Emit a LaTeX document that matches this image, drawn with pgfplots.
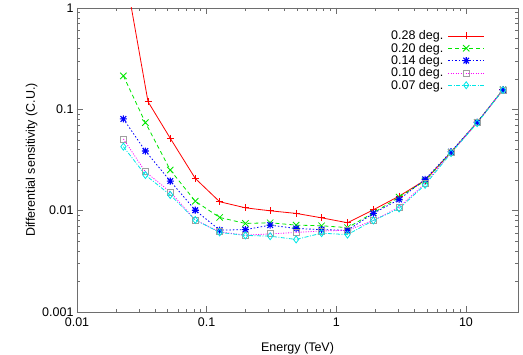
\documentclass[border=0pt]{standalone}
\usepackage{fontspec}
\setmainfont{Liberation Sans}
\usepackage{pgfplots}
\pgfplotsset{compat=1.18}
\usetikzlibrary{plotmarks}

\definecolor{gpred}{RGB}{255,0,0}
\definecolor{gpgreen}{RGB}{0,230,0}
\definecolor{gpblue}{RGB}{0,0,255}
\definecolor{gpmag}{RGB}{255,0,255}
\definecolor{gpcyan}{RGB}{0,230,230}
\definecolor{gpgrey}{RGB}{160,160,160}
\definecolor{border}{RGB}{110,110,110}

% gnuplot style "*" point: a + and an x on top of each other
\pgfdeclareplotmark{gstar}{%
  \pgfpathmoveto{\pgfqpoint{-\pgfplotmarksize}{0pt}}%
  \pgfpathlineto{\pgfqpoint{\pgfplotmarksize}{0pt}}%
  \pgfpathmoveto{\pgfqpoint{0pt}{-\pgfplotmarksize}}%
  \pgfpathlineto{\pgfqpoint{0pt}{\pgfplotmarksize}}%
  \pgfpathmoveto{\pgfqpoint{-.8\pgfplotmarksize}{-.8\pgfplotmarksize}}%
  \pgfpathlineto{\pgfqpoint{.8\pgfplotmarksize}{.8\pgfplotmarksize}}%
  \pgfpathmoveto{\pgfqpoint{-.8\pgfplotmarksize}{.8\pgfplotmarksize}}%
  \pgfpathlineto{\pgfqpoint{.8\pgfplotmarksize}{-.8\pgfplotmarksize}}%
  \pgfusepathqstroke}

\begin{document}
\begin{tikzpicture}[font=\fontsize{12.5bp}{15bp}\selectfont]
\begin{axis}[
  scale only axis,
  width=441bp, height=304bp,
  xmode=log, ymode=log,
  xmin=0.01, xmax=25.2,
  ymin=0.001, ymax=1,
  xtick={0.01,0.1,1,10}, xticklabels={0.01,0.1,1,10},
  ytick={0.001,0.01,0.1,1}, yticklabels={0.001,0.01,0.1,1},
  /pgf/number format/assume math mode=true,
  tick align=inside,
  major tick length=6bp, minor tick length=3.5bp,
  axis line style={border, line width=0.6bp},
  every tick/.style={border, line width=0.6bp},
  xticklabel style={yshift=-2bp},
  xlabel={Energy (TeV)},
  ylabel={Differential sensitivity (C.U.)},
  xlabel style={yshift=-9bp},
  ylabel style={yshift=-2bp},
  every axis plot/.append style={line width=0.8bp},
  legend cell align=right,
  legend plot pos=right,
  legend style={draw=none, fill=none, at={(0.927,0.936)}, anchor=north east,
    row sep=-2.2bp, inner sep=1bp, nodes={inner xsep=4.5bp}},
  legend image code/.code={%
    \draw[mark repeat=2, mark phase=2, #1]
      plot coordinates {(0bp,0bp) (18bp,0bp) (36bp,0bp)};},
]
\addplot[gpred, solid, mark=+, mark size=3.5bp, mark options={solid}] coordinates {
(0.0228,2.8) (0.0353,0.119) (0.0524,0.0518) (0.0817,0.0208) (0.126,0.01225)
(0.199,0.01067) (0.309,0.00997) (0.49,0.0094) (0.77,0.0085) (1.22,0.0076)
(1.93,0.0102) (3.05,0.0139) (4.84,0.0200) (7.67,0.0377) (12.2,0.074) (19.3,0.156)};
\addlegendentry{0.28 deg.}
\addplot[gpgreen, dash pattern=on 4bp off 3bp, mark=x, mark size=4.5bp, mark options={solid}] coordinates {
(0.0228,0.214) (0.0337,0.0739) (0.0524,0.0252) (0.0817,0.0124) (0.126,0.00857)
(0.199,0.00748) (0.309,0.0076) (0.49,0.0072) (0.77,0.0071) (1.22,0.0068)
(1.93,0.0095) (3.05,0.0136) (4.84,0.0197) (7.67,0.0378) (12.2,0.0745) (19.3,0.156)};
\addlegendentry{0.20 deg.}
\addplot[gpblue, dash pattern=on 1.5bp off 2bp, mark=gstar, mark size=3.5bp, mark options={solid, line width=1.1bp}] coordinates {
(0.0228,0.0804) (0.0337,0.0388) (0.0524,0.0196) (0.0817,0.0101) (0.126,0.00643)
(0.199,0.0065) (0.309,0.0072) (0.49,0.00667) (0.77,0.0065) (1.22,0.0064)
(1.93,0.0094) (3.05,0.0129) (4.84,0.0204) (7.67,0.0382) (12.2,0.0746) (19.3,0.156)};
\addlegendentry{0.14 deg.}
\addplot[gpmag, dash pattern=on 1bp off 1.5bp, mark=square, mark size=3bp, mark options={solid, draw=gpgrey}] coordinates {
(0.0228,0.051) (0.0337,0.0242) (0.0524,0.0153) (0.0817,0.0081) (0.126,0.00618)
(0.199,0.00573) (0.309,0.0059) (0.49,0.0061) (0.77,0.0063) (1.22,0.0064)
(1.93,0.0080) (3.05,0.0108) (4.84,0.0186) (7.67,0.0375) (12.2,0.074) (19.3,0.155)};
\addlegendentry{0.10 deg.}
\addplot[gpcyan, dash pattern=on 4bp off 1.5bp on 1bp off 1.5bp, mark=diamond, mark size=3.5bp, mark options={solid}] coordinates {
(0.0228,0.0428) (0.0337,0.0225) (0.0524,0.0143) (0.0817,0.0081) (0.126,0.0061)
(0.199,0.0057) (0.309,0.0056) (0.49,0.0052) (0.77,0.0060) (1.22,0.0058)
(1.93,0.0080) (3.05,0.0105) (4.84,0.0180) (7.67,0.0370) (12.2,0.073) (19.3,0.155)};
\addlegendentry{0.07 deg.}
\end{axis}
\pgfresetboundingbox
\path ([xshift=-77bp,yshift=-43bp]current axis.south west)
  rectangle ([xshift=5bp,yshift=8bp]current axis.north east);
\end{tikzpicture}
\end{document}
